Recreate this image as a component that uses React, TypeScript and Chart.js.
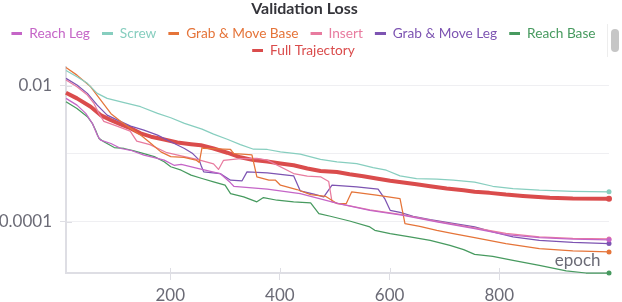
import React, { useEffect, useRef } from 'react';
import { Chart, registerables } from 'chart.js';

Chart.register(...registerables);

// ---------- data ----------
const TITLE = 'Validation Loss';
const X_TITLE = 'epoch';
const SERIES_NAMES = ['Reach Leg', 'Screw', 'Grab & Move Base', 'Insert', 'Grab & Move Leg', 'Reach Base', 'Full Trajectory'];
const COLORS = ['#C565C7', '#87CEBF', '#E57439', '#E87B9F', '#7D54B2', '#479A5F', '#DA4C4C'];
const X_MIN = 10;
const X_MAX = 1000;
const X_TICKS = [200, 400, 600, 800];
const Y_TICK_VALUES = [0.0001, 0.001, 0.01];
const Y_TICK_LABELS = ['0.0001', '', '0.01'];

const REACH_LEG_EPOCHS = [10, 30, 46, 58, 67, 73, 92, 110, 128, 152, 171, 189, 207, 220, 250, 258, 291, 310, 316, 377, 437, 507, 564, 625, 686, 755, 812, 873, 934, 1000];
const REACH_LEG_LOSS = [0.00655, 0.00521, 0.00394, 0.00281, 0.00189, 0.00159, 0.00142, 0.0012, 0.00113, 0.00096, 0.00088, 0.00081, 0.00068, 0.0007, 0.00061, 0.00059, 0.000514, 0.000375, 0.000334, 0.000302, 0.000261, 0.000186, 0.000148, 0.000125, 0.0001, 0.0000796, 0.000065, 0.0000588, 0.0000558, 0.0000545];

const SCREW_EPOCHS = [10, 30, 49, 67, 85, 116, 146, 177, 201, 226, 258, 279, 304, 328, 352, 377, 401, 437, 474, 504, 540, 570, 594, 619, 649, 686, 716, 755, 788, 825, 873, 934, 1000];
const SCREW_LOSS = [0.0168, 0.01365, 0.0109, 0.00776, 0.00655, 0.00566, 0.00494, 0.00394, 0.0034, 0.00281, 0.00231, 0.00195, 0.00164, 0.00137, 0.00117, 0.00116, 0.00107, 0.00099, 0.00083, 0.000765, 0.00072, 0.00063, 0.000575, 0.000475, 0.000434, 0.000424, 0.00041, 0.000383, 0.000334, 0.000309, 0.000292, 0.000282, 0.000277];

const GRAB_MOVE_BASE_EPOCHS = [10, 30, 55, 73, 92, 110, 128, 146, 165, 183, 201, 225, 247, 253, 258, 261, 310, 316, 331, 349, 358, 380, 392, 401, 431, 456, 483, 504, 521, 531, 576, 619, 628, 655, 686, 716, 755, 812, 873, 934, 1000];
const GRAB_MOVE_BASE_LOSS = [0.0187, 0.0144, 0.0097, 0.0062, 0.0039, 0.003, 0.00237, 0.00189, 0.00142, 0.00107, 0.00091, 0.00089, 0.00081, 0.00075, 0.00124, 0.0012, 0.00116, 0.00101, 0.00099, 0.00097, 0.00046, 0.00041, 0.00041, 0.000346, 0.000299, 0.000252, 0.000238, 0.000186, 0.000186, 0.000277, 0.000247, 0.00022, 0.0000944, 0.0000861, 0.0000752, 0.0000673, 0.0000588, 0.0000479, 0.0000404, 0.0000374, 0.0000361];

const INSERT_EPOCHS = [10, 30, 49, 61, 70, 79, 103, 127, 139, 163, 194, 224, 249, 279, 288, 297, 328, 358, 377, 425, 450, 474, 489, 495, 507, 564, 625, 686, 755, 812, 873, 934, 1000];
const INSERT_LOSS = [0.0122, 0.0097, 0.00733, 0.00552, 0.00394, 0.003, 0.00256, 0.00216, 0.00154, 0.00137, 0.00104, 0.00092, 0.00083, 0.000714, 0.00059, 0.0008, 0.00085, 0.00086, 0.00081, 0.000514, 0.00047, 0.00046, 0.000392, 0.000197, 0.000186, 0.00015, 0.000127, 0.000102, 0.0000815, 0.0000675, 0.00006, 0.0000572, 0.0000562];

const GRAB_MOVE_LEG_EPOCHS = [10, 30, 49, 67, 85, 104, 128, 152, 177, 201, 226, 241, 253, 257, 261, 291, 310, 331, 340, 377, 425, 437, 462, 480, 495, 540, 579, 591, 601, 619, 643, 674, 710, 755, 788, 825, 873, 934, 1000];
const GRAB_MOVE_LEG_LOSS = [0.0129, 0.0103, 0.00776, 0.00521, 0.00372, 0.00314, 0.00256, 0.00223, 0.00189, 0.00151, 0.0012, 0.00101, 0.00081, 0.00065, 0.000544, 0.000514, 0.00041, 0.000402, 0.000544, 0.000527, 0.000475, 0.000286, 0.000255, 0.000233, 0.000346, 0.000327, 0.000302, 0.00022, 0.000148, 0.000138, 0.000121, 0.000108, 0.0000966, 0.0000843, 0.0000713, 0.0000601, 0.0000536, 0.0000501, 0.0000479];

const REACH_BASE_EPOCHS = [10, 30, 49, 58, 64, 70, 79, 98, 116, 134, 152, 171, 189, 201, 220, 238, 258, 279, 300, 310, 334, 358, 370, 395, 425, 456, 471, 492, 527, 564, 573, 601, 637, 674, 710, 735, 755, 788, 825, 873, 922, 958, 1000];
const REACH_BASE_LOSS = [0.00585, 0.00466, 0.00352, 0.00281, 0.00223, 0.00169, 0.00151, 0.00124, 0.0012, 0.00111, 0.00101, 0.00091, 0.000765, 0.000646, 0.000575, 0.000486, 0.000434, 0.000388, 0.000346, 0.000261, 0.000233, 0.000197, 0.000228, 0.000208, 0.000197, 0.000191, 0.000132, 0.000121, 0.000103, 0.0000843, 0.0000752, 0.0000673, 0.0000601, 0.0000536, 0.0000452, 0.0000391, 0.0000333, 0.0000311, 0.0000272, 0.000023, 0.000019, 0.0000177, 0.0000177];

const FULL_TRAJ_EPOCHS = [10, 30, 55, 73, 92, 110, 128, 146, 165, 189, 213, 238, 256, 279, 304, 328, 352, 377, 401, 425, 450, 474, 504, 527, 552, 576, 601, 625, 649, 674, 704, 735, 755, 782, 812, 843, 892, 934, 1000];
const FULL_TRAJ_LOSS = [0.00794, 0.00655, 0.00494, 0.00372, 0.00314, 0.00271, 0.00237, 0.002, 0.00179, 0.00163, 0.00147, 0.00139, 0.00134, 0.0012, 0.00104, 0.00089, 0.00081, 0.00077, 0.00072, 0.00068, 0.00061, 0.00056, 0.00054, 0.0005, 0.00047, 0.000434, 0.000402, 0.000379, 0.000358, 0.000334, 0.000309, 0.000292, 0.000277, 0.000267, 0.000252, 0.000241, 0.000226, 0.00022, 0.000218];

const SERIES_EPOCHS = [REACH_LEG_EPOCHS, SCREW_EPOCHS, GRAB_MOVE_BASE_EPOCHS, INSERT_EPOCHS, GRAB_MOVE_LEG_EPOCHS, REACH_BASE_EPOCHS, FULL_TRAJ_EPOCHS];
const SERIES_LOSS = [REACH_LEG_LOSS, SCREW_LOSS, GRAB_MOVE_BASE_LOSS, INSERT_LOSS, GRAB_MOVE_LEG_LOSS, REACH_BASE_LOSS, FULL_TRAJ_LOSS];
const LINE_WIDTHS = [1.25, 1.25, 1.25, 1.25, 1.25, 1.25, 4];
const END_RADII = [2.5, 2.5, 2.5, 2.5, 2.5, 2.5, 3];

const FONT = 'Lato';
const TICK_COLOR = '#6b6b76';
const AXIS_COLOR = '#dedee4';
const GRID_COLOR = '#efeff2';

export default function App() {
  const canvasRef = useRef<HTMLCanvasElement | null>(null);

  useEffect(() => {
    const canvas = canvasRef.current;
    if (!canvas) return;
    Chart.defaults.font.family = FONT;

    const allLoss = SERIES_LOSS.flat();
    const yMin = Math.min(...allLoss);
    const yMax = Math.max(...allLoss);

    // legend swatches: blank lead-in + short bar
    const swatches = COLORS.map((c) => {
      const s = document.createElement('canvas');
      s.width = 20;
      s.height = 3;
      const g = s.getContext('2d')!;
      g.fillStyle = c;
      g.fillRect(9, 0, 11, 3);
      return s;
    });

    const datasets = SERIES_NAMES.map((name, i) => ({
      label: name,
      data: SERIES_EPOCHS[i].map((e, j) => ({ x: e, y: SERIES_LOSS[i][j] })),
      borderColor: COLORS[i],
      backgroundColor: COLORS[i],
      borderWidth: LINE_WIDTHS[i],
      pointRadius: (ctx: any) => (ctx.dataIndex === SERIES_EPOCHS[i].length - 1 ? END_RADII[i] : 0),
      pointHoverRadius: 0,
      pointBorderWidth: 0,
      pointBackgroundColor: COLORS[i],
      tension: 0,
      borderJoinStyle: 'round' as const,
      clip: false as const,
    }));

    const extras = {
      id: 'wbExtras',
      beforeDraw(chart: any) {
        if (chart.legend) {
          chart.legend.left = -11;
        }
      },
      afterDraw(chart: any) {
        const { ctx, chartArea, scales } = chart;
        ctx.save();
        ctx.strokeStyle = AXIS_COLOR;
        ctx.lineWidth = 1;
        ctx.beginPath();
        for (const v of X_TICKS) {
          const px = Math.round(scales.x.getPixelForValue(v)) + 0.5;
          ctx.moveTo(px, chartArea.bottom - 5);
          ctx.lineTo(px, chartArea.bottom);
        }
        Y_TICK_VALUES.forEach((v, i) => {
          if (!Y_TICK_LABELS[i]) return;
          const py = Math.round(scales.y.getPixelForValue(v)) + 0.5;
          ctx.moveTo(chartArea.left, py);
          ctx.lineTo(chartArea.left + 6, py);
        });
        ctx.stroke();
        ctx.font = `17px ${FONT}`;
        ctx.fillStyle = TICK_COLOR;
        ctx.textAlign = 'right';
        ctx.textBaseline = 'alphabetic';
        ctx.fillText(X_TITLE, chartArea.right - 8.5, chartArea.bottom - 7.5);
        ctx.restore();
      },
    };

    const chart = new Chart(canvas, {
      type: 'line',
      data: { datasets },
      options: {
        responsive: false,
        animation: false,
        devicePixelRatio: 1,
        layout: { padding: { left: 0, right: 13, top: 0, bottom: 0 } },
        interaction: { mode: 'nearest', intersect: false },
        plugins: {
          tooltip: { enabled: false },
          title: {
            display: true,
            text: TITLE,
            color: '#34343a',
            font: { family: FONT, size: 16, weight: 'bold', lineHeight: 1.125 },
            padding: { top: 0, bottom: 6 },
          },
          legend: {
            display: true,
            position: 'top',
            labels: {
              font: { family: FONT, size: 13.7 },
              usePointStyle: true,
              pointStyleWidth: 20,
              boxHeight: 3,
              padding: 3,
              generateLabels: (ch: any) => {
                const items = (Chart.defaults.plugins.legend.labels as any).generateLabels(ch);
                return items.map((it: any) => ({
                  ...it,
                  fontColor: COLORS[it.datasetIndex],
                  pointStyle: swatches[it.datasetIndex],
                  lineWidth: 0,
                }));
              },
            },
          },
        },
        scales: {
          x: {
            type: 'linear',
            min: X_MIN,
            max: X_MAX,
            afterBuildTicks: (s: any) => {
              s.ticks = X_TICKS.map((v) => ({ value: v }));
            },
            afterFit: (s: any) => {
              s.height = 29;
            },
            ticks: {
              color: TICK_COLOR,
              font: { family: FONT, size: 17 },
              padding: 5.5,
              maxRotation: 0,
              autoSkip: false,
            },
            grid: {
              drawOnChartArea: false,
              drawTicks: true,
              tickLength: 7,
              tickColor: AXIS_COLOR,
            },
            border: { display: true, color: AXIS_COLOR, width: 2 },
          },
          y: {
            type: 'logarithmic',
            min: yMin,
            max: yMax,
            afterBuildTicks: (s: any) => {
              s.ticks = Y_TICK_VALUES.map((v) => ({ value: v }));
            },
            afterFit: (s: any) => {
              s.width = 66;
            },
            ticks: {
              color: TICK_COLOR,
              font: { family: FONT, size: 17 },
              padding: 8,
              autoSkip: false,
              callback: (_v: any, i: number) => Y_TICK_LABELS[i],
            },
            grid: {
              color: GRID_COLOR,
              lineWidth: 1,
              drawTicks: true,
              tickLength: 6,
              tickColor: (c: any) => (c.tick && c.tick.label ? AXIS_COLOR : 'rgba(0,0,0,0)'),
            },
            border: { display: true, color: AXIS_COLOR, width: 2 },
          },
        },
      },
      plugins: [extras],
    } as any);

    return () => chart.destroy();
  }, []);

  return (
    <div style={{ position: 'absolute', left: 0, top: 0, width: 622, height: 302, background: '#fff' }}>
      <canvas ref={canvasRef} width={622} height={302} style={{ display: 'block', width: 622, height: 302 }} />
      <div style={{ position: 'absolute', left: 607, top: 24, width: 1, height: 33, background: '#ededed' }} />
      <div style={{ position: 'absolute', left: 611, top: 29, width: 8, height: 23, borderRadius: 4, background: '#c6c6c6' }} />
    </div>
  );
}
